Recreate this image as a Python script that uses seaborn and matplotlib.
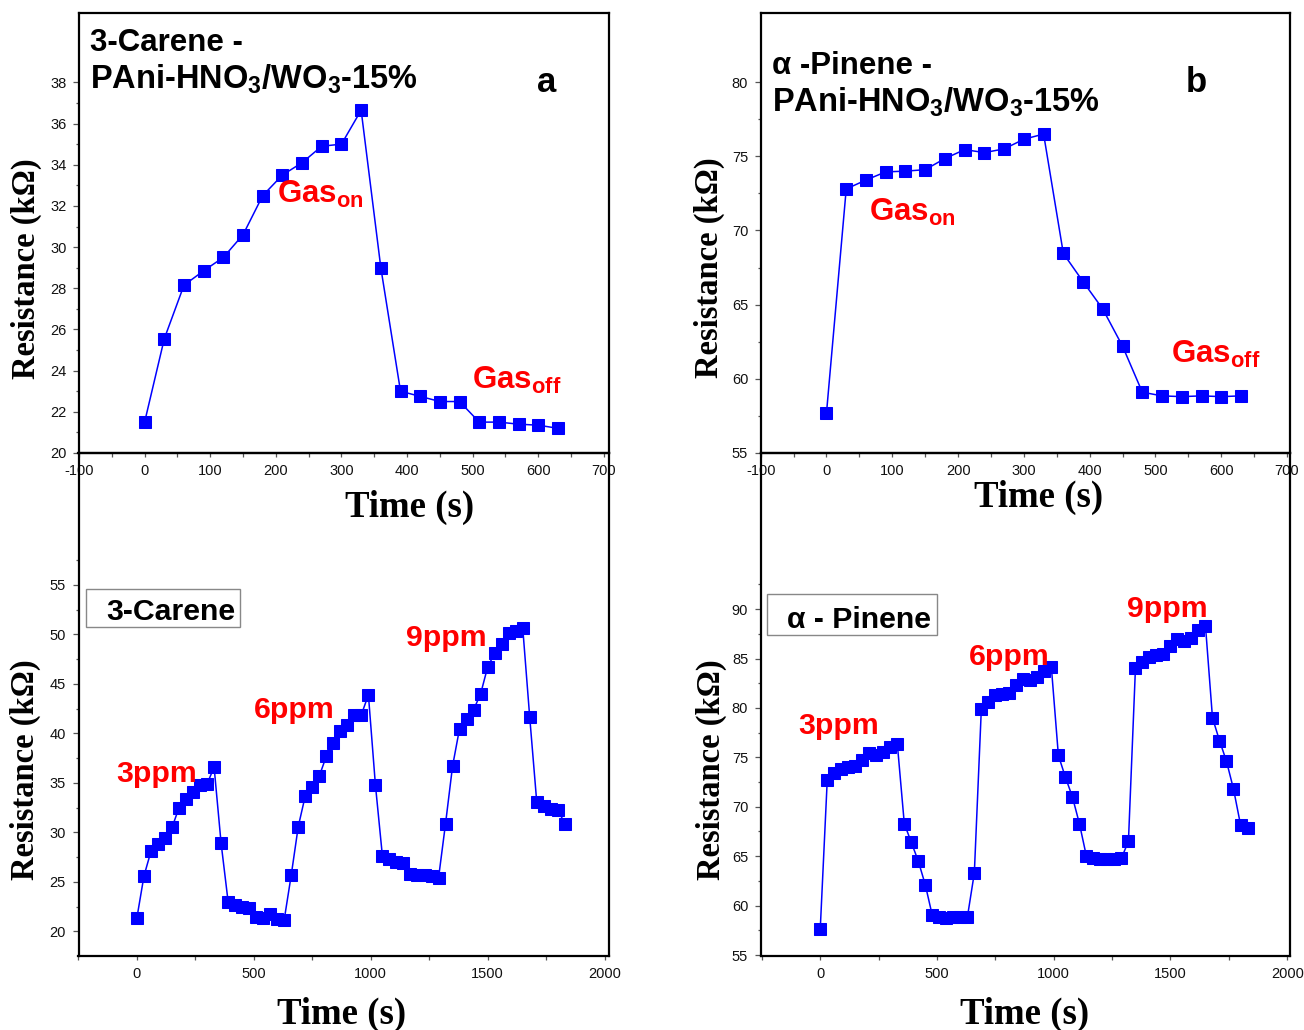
import matplotlib
matplotlib.use("Agg")
import matplotlib.pyplot as plt
import seaborn as sns
import pandas as pd
from matplotlib.patches import Rectangle
from matplotlib.ticker import FixedLocator

# ---------------- data ----------------
time_single = [0, 30, 60, 90, 120, 150, 180, 210, 240, 270, 300, 330,
               360, 390, 420, 450, 480, 510, 540, 570, 600, 630]
carene_single = [21.5, 25.55, 28.15, 28.85, 29.5, 30.6, 32.5, 33.5, 34.1, 34.9, 35.0, 36.65,
                 29.0, 23.0, 22.75, 22.5, 22.5, 21.5, 21.5, 21.4, 21.35, 21.2]
pinene_single = [57.7, 72.8, 73.4, 73.95, 74.0, 74.1, 74.85, 75.45, 75.25, 75.5, 76.15, 76.5,
                 68.45, 66.55, 64.7, 62.2, 59.1, 58.85, 58.8, 58.85, 58.8, 58.85]

time_cycles = [0, 30, 60, 90, 120, 150, 180, 210, 240, 270, 300, 330,
               360, 390, 420, 450, 480, 510, 540, 570, 600, 630,
               660, 690, 720, 750, 780, 810, 840, 870, 900, 930, 960, 990,
               1020, 1050, 1080, 1110, 1140, 1170, 1200, 1230, 1260, 1290,
               1320, 1350, 1380, 1410, 1440, 1470, 1500, 1530, 1560, 1590, 1620, 1650,
               1680, 1710, 1740, 1770, 1800, 1830]
carene_cycles = [21.4, 25.6, 28.1, 28.8, 29.4, 30.5, 32.5, 33.4, 34.1, 34.8, 34.9, 36.6,
                 28.9, 23.0, 22.7, 22.5, 22.4, 21.5, 21.4, 21.8, 21.3, 21.2,
                 25.7, 30.6, 33.7, 34.6, 35.7, 37.7, 39.0, 40.2, 40.9, 41.85, 41.9, 43.9,
                 34.8, 27.6, 27.3, 27.0, 26.9, 25.8, 25.75, 25.7, 25.6, 25.4,
                 30.9, 36.7, 40.5, 41.5, 42.4, 44.0, 46.7, 48.1, 49.0, 50.1, 50.3, 50.7,
                 41.65, 33.1, 32.7, 32.35, 32.3, 30.9]
pinene_cycles = [57.6, 72.7, 73.4, 73.8, 74.0, 74.1, 74.7, 75.4, 75.2, 75.5, 76.0, 76.4,
                 68.3, 66.4, 64.5, 62.1, 59.0, 58.8, 58.7, 58.8, 58.8, 58.8,
                 63.3, 79.9, 80.6, 81.3, 81.4, 81.5, 82.3, 82.9, 82.8, 83.1, 83.7, 84.1,
                 75.2, 73.0, 71.0, 68.3, 65.0, 64.8, 64.7, 64.7, 64.7, 64.8,
                 66.5, 84.0, 84.6, 85.2, 85.4, 85.5, 86.3, 87.0, 86.8, 87.1, 87.9, 88.3,
                 79.0, 76.7, 74.6, 71.8, 68.2, 67.9]

top_xticks = [-100, 0, 100, 200, 300, 400, 500, 600, 700]
bottom_xticks = [0, 500, 1000, 1500, 2000]
carene_single_yticks = [20, 22, 24, 26, 28, 30, 32, 34, 36, 38]
pinene_single_yticks = [55, 60, 65, 70, 75, 80]
carene_cycles_yticks = [20, 25, 30, 35, 40, 45, 50, 55]
pinene_cycles_yticks = [55, 60, 65, 70, 75, 80, 85, 90]

# ---------------- style ----------------
sns.set_style("ticks")
plt.rcParams["font.family"] = ["Liberation Sans", "DejaVu Sans"]
plt.rcParams["text.color"] = "black"
plt.rcParams["axes.labelcolor"] = "black"
plt.rcParams["mathtext.fontset"] = "custom"
plt.rcParams["mathtext.rm"] = "Liberation Sans:bold"
plt.rcParams["mathtext.bf"] = "Liberation Sans:bold"
plt.rcParams["mathtext.it"] = "Liberation Sans:bold"
plt.rcParams["mathtext.default"] = "bf"

W, H = 1304, 1030
fig = plt.figure(figsize=(W / 100, H / 100), dpi=100)
fig.patch.set_facecolor("white")


def add_axes(l, t, r, b):
    ax = fig.add_axes([l / W, 1 - b / H, (r - l) / W, (b - t) / H])
    ax.patch.set_alpha(0)
    ax._pxrect = (l, t, r, b)
    return ax


def to_axes(ax, x, y):
    l, t, r, b = ax._pxrect
    return (x - l) / (r - l), (b - y) / (b - t)


ax1 = add_axes(79, 13, 608.5, 453)
ax2 = add_axes(760.7, 13, 1290, 453)
ax3 = add_axes(78.5, 453, 608.5, 955.5)
ax4 = add_axes(760.7, 453, 1290, 955.5)

line_kw = dict(color="blue", marker="s", markersize=8, markeredgecolor="blue",
               markerfacecolor="blue", linewidth=1.1, sort=False, errorbar=None)

df1 = pd.DataFrame({"t": time_single, "R": carene_single})
df2 = pd.DataFrame({"t": time_single, "R": pinene_single})
df3 = pd.DataFrame({"t": time_cycles, "R": carene_cycles})
df4 = pd.DataFrame({"t": time_cycles, "R": pinene_cycles})

sns.lineplot(data=df1, x="t", y="R", ax=ax1, **line_kw)
sns.lineplot(data=df2, x="t", y="R", ax=ax2, **line_kw)
sns.lineplot(data=df3, x="t", y="R", ax=ax3, **line_kw)
sns.lineplot(data=df4, x="t", y="R", ax=ax4, **line_kw)

ax1.set_xlim(-100, 707)
ax1.set_ylim(20, 41.37)
ax2.set_xlim(-100, 704.5)
ax2.set_ylim(55, 84.66)
ax3.set_xlim(-250, 2017)
ax3.set_ylim(17.57, 68.33)
ax4.set_xlim(-255, 2012)
ax4.set_ylim(54.95, 105.8)


def setup_ticks(ax, xt, xminor, yt, yminor):
    ax.xaxis.set_major_locator(FixedLocator(xt))
    ax.xaxis.set_minor_locator(FixedLocator(xminor))
    ax.yaxis.set_major_locator(FixedLocator(yt))
    ax.yaxis.set_minor_locator(FixedLocator(yminor))
    ax.set_xticklabels([str(v) for v in xt])
    ax.set_yticklabels([str(v) for v in yt])
    ax.tick_params(axis="both", which="both", direction="out", color="#555555",
                   width=0.9, labelsize=10.5, labelcolor="#111111")
    ax.tick_params(axis="y", which="major", length=4.5, pad=4.5)
    ax.tick_params(axis="y", which="minor", length=2.5)
    ax.tick_params(axis="x", which="major", length=3, pad=5)
    ax.tick_params(axis="x", which="minor", length=3)
    ax.tick_params(top=False, right=False, which="both")
    for s in ax.spines.values():
        s.set_visible(True)
        s.set_linewidth(1.6)
        s.set_color("black")


setup_ticks(ax1, top_xticks, [-50, 50, 150, 250, 350, 450, 550, 650],
            carene_single_yticks, [21, 23, 25, 27, 29, 31, 33, 35, 37])
setup_ticks(ax2, top_xticks, [-50, 50, 150, 250, 350, 450, 550, 650],
            pinene_single_yticks, [57.5, 62.5, 67.5, 72.5, 77.5])
setup_ticks(ax3, bottom_xticks, [-250, 250, 750, 1250, 1750],
            carene_cycles_yticks, [17.5, 22.5, 27.5, 32.5, 37.5, 42.5, 47.5, 52.5, 57.5])
setup_ticks(ax4, bottom_xticks, [-250, 250, 750, 1250, 1750],
            pinene_cycles_yticks, [57.5, 62.5, 67.5, 72.5, 77.5, 82.5, 87.5, 92.5])

# axis labels
label_font = dict(family=["Liberation Serif", "DejaVu Serif"], weight="bold")
for ax, tx, ty, rx, ry in [(ax1, 410, 517, 26, 268.5),
                           (ax2, 1039, 507, 709.7, 268),
                           (ax3, 341.5, 1024, 25.3, 770),
                           (ax4, 1025, 1024, 711.4, 770)]:
    ax.set_xlabel("Time (s)", fontsize=26.5, va="baseline", color="black", **label_font)
    ax.xaxis.set_label_coords(*to_axes(ax, tx, ty))
    ax.set_ylabel("Resistance (k\u03a9)", fontsize=23.5, va="center", color="black", **label_font)
    ax.yaxis.set_label_coords(*to_axes(ax, rx, ry))


def ftext(x, y, s, **kw):
    kw.setdefault("ha", "left")
    kw.setdefault("va", "baseline")
    kw.setdefault("fontweight", "bold")
    kw.setdefault("color", "black")
    return fig.text(x / W, 1 - y / H, s, **kw)


# titles
ftext(90.5, 51, "3-Carene -", fontsize=22.5)
ftext(90.5, 88.5, "PAni-HNO$_3$/WO$_3$-15%", fontsize=23.5)
ftext(537, 92, "a", fontsize=25)
ftext(772, 73.6, "\u03b1 -Pinene -", fontsize=22.5)
ftext(772, 111.5, "PAni-HNO$_3$/WO$_3$-15%", fontsize=23.5)
ftext(1186, 92, "b", fontsize=25)

# gas on / off
red = "#ff0000"
ftext(277, 203, "Gas$_{on}$", fontsize=22.5, color=red)
ftext(472, 388.5, "Gas$_{off}$", fontsize=22.5, color=red)
ftext(869.4, 221, "Gas$_{on}$", fontsize=22.5, color=red)
ftext(1171.3, 363, "Gas$_{off}$", fontsize=22.5, color=red)

# boxed labels
for (l, t, r, b) in [(86.3, 589.3, 239.7, 626.7), (766.7, 594, 936.7, 635)]:
    fig.patches.append(Rectangle((l / W, 1 - b / H), (r - l) / W, (b - t) / H,
                                 transform=fig.transFigure, facecolor="white",
                                 edgecolor="#888888", linewidth=1.0, zorder=3))
ftext(106.3, 620, "3-Carene", fontsize=21.8, zorder=4)
ftext(786.7, 628.3, "\u03b1 - Pinene", fontsize=21.8, zorder=4)

# ppm labels
for x, y, s in [(116.3, 781.7, "3ppm"), (253.7, 717.7, "6ppm"), (406, 645.7, "9ppm"),
                (798.3, 734, "3ppm"), (969.3, 665, "6ppm"), (1126.7, 616.7, "9ppm")]:
    ftext(x, y, s, fontsize=21.8, color=red)

fig.savefig("out.png", dpi=100, facecolor="white")
